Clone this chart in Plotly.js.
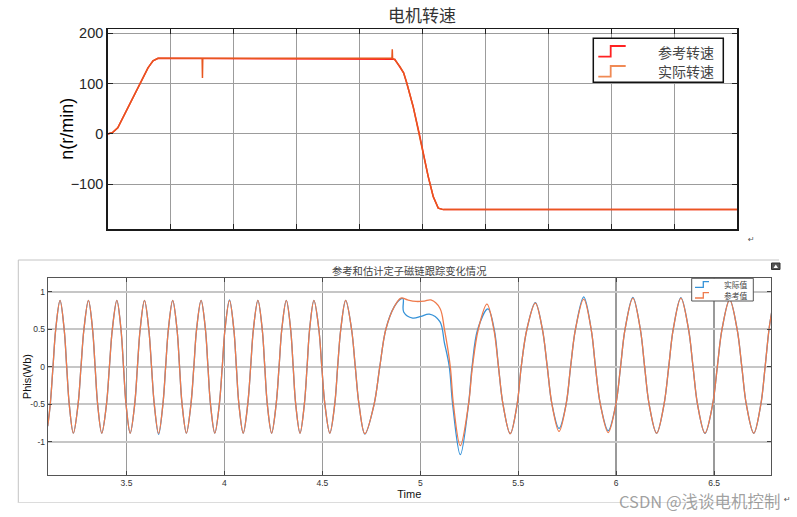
<!DOCTYPE html>
<html><head><meta charset="utf-8">
<script src="https://cdn.plot.ly/plotly-3.0.1.min.js"></script>
<style>html,body{margin:0;padding:0;background:#fff;}#chart{width:797px;height:517px;}</style>
</head><body><div id="chart"></div>
<script>
// ---------- top chart: motor speed ----------
const speedTitle = '电机转速';
const speedYTitle = 'n(r/min)';
const speedNames = ['参考转速', '实际转速'];
const speedYTicks = [-100, 0, 100, 200];
const refSpeedT = [0, 0.08, 0.16, 0.24, 0.35, 0.46, 0.54, 0.64, 0.72, 0.80, 4.56, 4.64, 4.70, 4.75, 4.85, 4.95, 5.01, 5.09, 5.17, 5.25, 5.33, 10];
const refSpeed  = [0, 3, 12, 32, 58, 84, 104, 131, 145, 150, 148, 134, 121, 101, 55, 0, -38, -84, -124, -147, -150, -150];
const actSpeedT = [0, 0.08, 0.16, 0.24, 0.35, 0.46, 0.54, 0.64, 0.72, 0.80, 1.500, 1.505, 1.510, 4.515, 4.520, 4.525, 4.56, 4.64, 4.70, 4.75, 4.85, 4.95, 5.01, 5.09, 5.17, 5.25, 5.33, 10];
const actSpeed  = [0, 3, 12, 32, 58, 84, 104, 131, 145, 150, 150, 111, 150, 150, 168, 150, 147, 134, 121, 101, 55, 0, -38, -84, -124, -147, -150, -150];

// ---------- bottom chart: stator flux ----------
const fluxTitle = '参考和估计定子磁链跟踪变化情况';
const fluxXTitle = 'Time';
const fluxYTitle = 'Phis(Wb)';
const fluxNames = ['实际值', '参考值'];
const fluxXTicks = [3.5, 4, 4.5, 5, 5.5, 6, 6.5];
const fluxXTickText = ['3.5', '4', '4.5', '5', '5.5', '6', '6.5'];
const fluxYTicks = [-1, -0.5, 0, 0.5, 1];
const fluxYTickText = ['-1', '-0.5', '0', '0.5', '1'];

// steady part (3.098 .. 4.901 s): peaks, troughs, zero and ±0.5 crossings
const steadyT = [3.098, 3.111, 3.125, 3.139, 3.161, 3.182, 3.195, 3.208, 3.229, 3.253, 3.268, 3.283,
  3.306, 3.327, 3.340, 3.353, 3.374, 3.398, 3.413, 3.428, 3.451, 3.472, 3.485, 3.498,
  3.519, 3.542, 3.556, 3.570, 3.592, 3.614, 3.628, 3.642, 3.664, 3.686, 3.700, 3.714,
  3.736, 3.758, 3.771, 3.784, 3.806, 3.829, 3.844, 3.858, 3.881, 3.903, 3.916, 3.929,
  3.951, 3.974, 3.989, 4.003, 4.026, 4.048, 4.061, 4.074, 4.096, 4.119, 4.134, 4.148,
  4.171, 4.193, 4.206, 4.219, 4.241, 4.264, 4.279, 4.293, 4.316, 4.338, 4.351, 4.364,
  4.386, 4.408, 4.422, 4.435, 4.457, 4.482, 4.497, 4.513, 4.538, 4.563, 4.578, 4.594,
  4.619, 4.649, 4.668, 4.687, 4.717, 4.764, 4.793, 4.824, 4.867, 4.901];
const refSteady = [-0.79, -0.5, 0, 0.5, 0.883, 0.5, 0, -0.5, -0.883, -0.5, 0, 0.5,
  0.883, 0.5, 0, -0.5, -0.883, -0.5, 0, 0.5, 0.883, 0.5, 0, -0.5,
  -0.883, -0.5, 0, 0.5, 0.883, 0.5, 0, -0.5, -0.885, -0.5, 0, 0.5,
  0.883, 0.5, 0, -0.5, -0.883, -0.5, 0, 0.5, 0.883, 0.5, 0, -0.5,
  -0.883, -0.5, 0, 0.5, 0.883, 0.5, 0, -0.5, -0.883, -0.5, 0, 0.5,
  0.883, 0.5, 0, -0.5, -0.883, -0.5, 0, 0.5, 0.883, 0.5, 0, -0.5,
  -0.883, -0.5, 0, 0.5, 0.883, 0.5, 0, -0.5, -0.883, -0.5, 0, 0.5,
  0.885, 0.5, 0, -0.5, -0.89, -0.5, 0, 0.5, 0.8, 0.915];
const actSteady = [-0.79, -0.5, 0, 0.5, 0.883, 0.5, 0, -0.5, -0.883, -0.5, 0, 0.5,
  0.883, 0.5, 0, -0.5, -0.883, -0.5, 0, 0.5, 0.883, 0.5, 0, -0.5,
  -0.883, -0.5, 0, 0.5, 0.883, 0.5, 0, -0.5, -0.90, -0.5, 0, 0.5,
  0.883, 0.5, 0, -0.5, -0.883, -0.5, 0, 0.5, 0.883, 0.5, 0, -0.5,
  -0.883, -0.5, 0, 0.5, 0.89, 0.5, 0, -0.5, -0.883, -0.5, 0, 0.5,
  0.883, 0.5, 0, -0.5, -0.883, -0.5, 0, 0.5, 0.883, 0.5, 0, -0.5,
  -0.883, -0.5, 0, 0.5, 0.883, 0.5, 0, -0.5, -0.883, -0.5, 0, 0.5,
  0.885, 0.5, 0, -0.5, -0.895, -0.5, 0, 0.5, 0.8, 0.905];
// after the speed reversal
const refTailT = [4.935, 4.978, 5.020, 5.054, 5.100, 5.123, 5.153, 5.169, 5.204, 5.246, 5.266, 5.296, 5.340,
  5.375, 5.399, 5.422, 5.459, 5.494, 5.515, 5.544, 5.587, 5.623, 5.648, 5.672, 5.708,
  5.744, 5.767, 5.792, 5.834, 5.872, 5.894, 5.919, 5.959, 5.998, 6.022, 6.045, 6.085,
  6.123, 6.145, 6.168, 6.206, 6.244, 6.268, 6.291, 6.330, 6.369, 6.392, 6.415, 6.453,
  6.492, 6.516, 6.540, 6.579, 6.617, 6.641, 6.664, 6.702, 6.738, 6.760, 6.780, 6.795];
const refTail = [0.89, 0.87, 0.875, 0.89, 0.78, 0.5, 0, -0.5, -1.05, -0.5, 0, 0.5, 0.835,
  0.5, 0, -0.5, -0.89, -0.5, 0, 0.5, 0.848, 0.5, 0, -0.5, -0.86,
  -0.5, 0, 0.5, 0.90, 0.5, 0, -0.5, -0.875, -0.5, 0, 0.5, 0.915,
  0.5, 0, -0.5, -0.883, -0.5, 0, 0.5, 0.915, 0.5, 0, -0.5, -0.883,
  -0.5, 0, 0.5, 0.89, 0.5, 0, -0.5, -0.883, -0.5, 0, 0.5, 0.75];
const actTailT = [4.912, 4.915, 4.961, 5.003, 5.046, 5.100, 5.123, 5.148, 5.165, 5.204, 5.246, 5.264, 5.293, 5.345,
  5.377, 5.399, 5.422, 5.459, 5.494, 5.515, 5.544, 5.587, 5.623, 5.648, 5.672, 5.708,
  5.744, 5.767, 5.792, 5.834, 5.872, 5.894, 5.919, 5.959, 5.998, 6.022, 6.045, 6.085,
  6.123, 6.145, 6.168, 6.206, 6.244, 6.268, 6.291, 6.330, 6.369, 6.392, 6.415, 6.453,
  6.492, 6.516, 6.540, 6.579, 6.617, 6.641, 6.664, 6.702, 6.738, 6.760, 6.780, 6.795];
const actTail = [0.905, 0.73, 0.648, 0.67, 0.70, 0.60, 0.32, 0, -0.5, -1.17, -0.5, 0, 0.5, 0.77,
  0.5, 0, -0.5, -0.89, -0.5, 0, 0.5, 0.855, 0.5, 0, -0.5, -0.82,
  -0.5, 0, 0.5, 0.93, 0.5, 0, -0.5, -0.85, -0.5, 0, 0.5, 0.925,
  0.5, 0, -0.5, -0.885, -0.5, 0, 0.5, 0.92, 0.5, 0, -0.5, -0.885,
  -0.5, 0, 0.5, 0.895, 0.5, 0, -0.5, -0.885, -0.5, 0, 0.5, 0.75];

// ---------- layout helpers (pixel -> paper) ----------
const W = 797, H = 517;
const px = x => x / W, py = y => 1 - y / H;
const NUM = 'Liberation Sans, Arial, sans-serif';
const CJK = 'Noto Sans CJK SC, sans-serif';
const C_RED = '#ff2222', C_ORG = '#e8561f';
const C_BLUE = '#3592d8', C_ORG2 = '#ef7a4b';

const traces = [
  {x: refSpeedT, y: refSpeed, xaxis: 'x', yaxis: 'y', mode: 'lines', name: speedNames[0], showlegend: false,
   line: {color: C_RED, width: 1.5}},
  {x: actSpeedT, y: actSpeed, xaxis: 'x', yaxis: 'y', mode: 'lines', name: speedNames[1], showlegend: false,
   line: {color: C_ORG, width: 1.5}},
  {x: steadyT.concat(actTailT), y: actSteady.concat(actTail), xaxis: 'x2', yaxis: 'y2', mode: 'lines',
   name: fluxNames[0], showlegend: false, line: {color: C_BLUE, width: 1.3, shape: 'spline', smoothing: 1}},
  {x: steadyT.concat(refTailT), y: refSteady.concat(refTail), xaxis: 'x2', yaxis: 'y2', mode: 'lines',
   name: fluxNames[1], showlegend: false, line: {color: C_ORG2, width: 1.3, shape: 'spline', smoothing: 1}}
];

function stepPath(x0, x1, x2, yLow, yHigh) {
  return `M${px(x0)},${py(yLow)} L${px(x1)},${py(yLow)} L${px(x1)},${py(yHigh)} L${px(x2)},${py(yHigh)}`;
}
const P = {xref: 'paper', yref: 'paper'};

const shapes = [
  // top legend box + icons
  Object.assign({type: 'rect', x0: px(593.3), x1: px(723.3), y0: py(82.3), y1: py(38.3),
    line: {color: '#111', width: 1.5}, fillcolor: '#fff', layer: 'above'}, P),
  Object.assign({type: 'path', path: stepPath(598.3, 610.7, 625.7, 56.7, 46), line: {color: C_RED, width: 1.8}, layer: 'above'}, P),
  Object.assign({type: 'path', path: stepPath(598.3, 610.7, 625.7, 76.7, 66), line: {color: '#f08a55', width: 1.8}, layer: 'above'}, P),
  // bottom outer frame
  Object.assign({type: 'line', x0: px(18.3), x1: px(779), y0: py(260), y1: py(260), line: {color: '#c4c4c4', width: 1}}, P),
  Object.assign({type: 'line', x0: px(18.3), x1: px(18.3), y0: py(260), y1: py(503), line: {color: '#c4c4c4', width: 1}}, P),
  Object.assign({type: 'line', x0: px(18.3), x1: px(779), y0: py(502.5), y1: py(502.5), line: {color: '#dcdcdc', width: 1}}, P),
  // small icon top right
  Object.assign({type: 'rect', x0: px(771.5), x1: px(780), y0: py(269.5), y1: py(263), line: {color: '#333', width: 1}, fillcolor: '#555'}, P),
  Object.assign({type: 'path', path: `M${px(773.5)},${py(268)} L${px(775.8)},${py(264.5)} L${px(778)},${py(268)} Z`, line: {width: 0}, fillcolor: '#fff'}, P),
  // bottom legend box + icons
  Object.assign({type: 'rect', x0: px(691.7), x1: px(753.3), y0: py(301), y1: py(278.3),
    line: {color: '#555', width: 1}, fillcolor: '#fff', layer: 'above'}, P),
  Object.assign({type: 'path', path: stepPath(695, 703.3, 709, 287.3, 281.7), line: {color: C_BLUE, width: 1.3}, layer: 'above'}, P),
  Object.assign({type: 'path', path: stepPath(695, 703.3, 709, 298, 292.7), line: {color: C_ORG2, width: 1.3}, layer: 'above'}, P)
];

const annotations = [
  Object.assign({text: speedTitle, x: px(421.7), y: py(15), xanchor: 'center', yanchor: 'middle', showarrow: false,
    font: {family: CJK, size: 17, color: '#333'}}, P),
  Object.assign({text: speedYTitle, x: px(66.7), y: py(129), xanchor: 'center', yanchor: 'middle', textangle: -90, showarrow: false,
    font: {family: NUM, size: 18, color: '#000'}}, P),
  Object.assign({text: speedNames[0], x: px(716), y: py(51.7), xanchor: 'right', yanchor: 'middle', showarrow: false,
    font: {family: CJK, size: 14, color: '#444'}}, P),
  Object.assign({text: speedNames[1], x: px(716), y: py(71), xanchor: 'right', yanchor: 'middle', showarrow: false,
    font: {family: CJK, size: 14, color: '#444'}}, P),
  Object.assign({text: '↵', x: px(751), y: py(240), xanchor: 'center', yanchor: 'middle', showarrow: false,
    font: {family: 'DejaVu Sans', size: 8, color: '#555'}}, P),
  Object.assign({text: fluxTitle, x: px(409), y: py(270.7), xanchor: 'center', yanchor: 'middle', showarrow: false,
    font: {family: CJK, size: 10.3, color: '#444'}}, P),
  Object.assign({text: fluxYTitle, x: px(26.7), y: py(376.5), xanchor: 'center', yanchor: 'middle', textangle: -90, showarrow: false,
    font: {family: NUM, size: 11, color: '#111'}}, P),
  Object.assign({text: fluxNames[0], x: px(749.5), y: py(284.5), xanchor: 'right', yanchor: 'middle', showarrow: false,
    font: {family: CJK, size: 7.8, color: '#444'}}, P),
  Object.assign({text: fluxNames[1], x: px(749.5), y: py(295.5), xanchor: 'right', yanchor: 'middle', showarrow: false,
    font: {family: CJK, size: 7.8, color: '#444'}}, P),
  Object.assign({text: 'CSDN @浅谈电机控制', x: px(782), y: py(501), xanchor: 'right', yanchor: 'middle', showarrow: false,
    borderpad: 0, font: {family: CJK, size: 16.5, color: 'rgba(130,130,130,0.75)'}}, P),
  Object.assign({text: '↵', x: px(787), y: py(499), xanchor: 'center', yanchor: 'middle', showarrow: false,
    font: {family: 'DejaVu Sans', size: 8, color: '#555'}}, P)
];

const layout = {
  width: W, height: H,
  margin: {l: 0, r: 0, t: 0, b: 0, pad: 0},
  paper_bgcolor: '#fff', plot_bgcolor: '#fff',
  showlegend: false,
  font: {family: NUM},
  xaxis: {domain: [px(107.7), px(737.3)], anchor: 'y', range: [0, 10], tick0: 0, dtick: 1,
    showticklabels: false, ticks: 'inside', ticklen: 5, tickcolor: '#222', tickwidth: 1,
    showline: true, linecolor: '#1a1a1a', linewidth: 1.5, mirror: 'ticks',
    showgrid: true, gridcolor: '#9c9c9c', gridwidth: 1, zeroline: false},
  yaxis: {domain: [py(229.3), py(29)], anchor: 'x', range: [-189, 208], tickvals: speedYTicks,
    ticks: 'inside', ticklen: 5, tickcolor: '#222', tickwidth: 1,
    showline: true, linecolor: '#1a1a1a', linewidth: 1.5, mirror: 'ticks',
    showgrid: true, gridcolor: '#9c9c9c', gridwidth: 1, zeroline: false,
    tickfont: {family: NUM, size: 14.5, color: '#262626'}},
  xaxis2: {domain: [px(47.7), px(771)], anchor: 'y2', range: [3.098, 6.79], tickvals: fluxXTicks, ticktext: fluxXTickText,
    ticks: 'inside', ticklen: 4, tickcolor: '#444', tickwidth: 1,
    showline: true, linecolor: '#555', linewidth: 1, mirror: 'ticks',
    showgrid: true, gridcolor: '#9a9a9a', gridwidth: 1.5, zeroline: false,
    tickfont: {family: NUM, size: 8.5, color: '#333'},
    title: {text: fluxXTitle, font: {family: NUM, size: 11, color: '#111'}, standoff: 2}},
  yaxis2: {domain: [py(475), py(277.7)], anchor: 'x2', range: [-1.44, 1.186], tickvals: fluxYTicks, ticktext: fluxYTickText,
    ticks: 'inside', ticklen: 4, tickcolor: '#444', tickwidth: 1,
    showline: true, linecolor: '#555', linewidth: 1, mirror: 'ticks',
    showgrid: true, gridcolor: '#c6c6c6', gridwidth: 1.8, zeroline: false,
    tickfont: {family: NUM, size: 8.5, color: '#333'}},
  shapes: shapes,
  annotations: annotations
};

Plotly.newPlot('chart', traces, layout, {staticPlot: true, displayModeBar: false});
</script>
</body></html>
